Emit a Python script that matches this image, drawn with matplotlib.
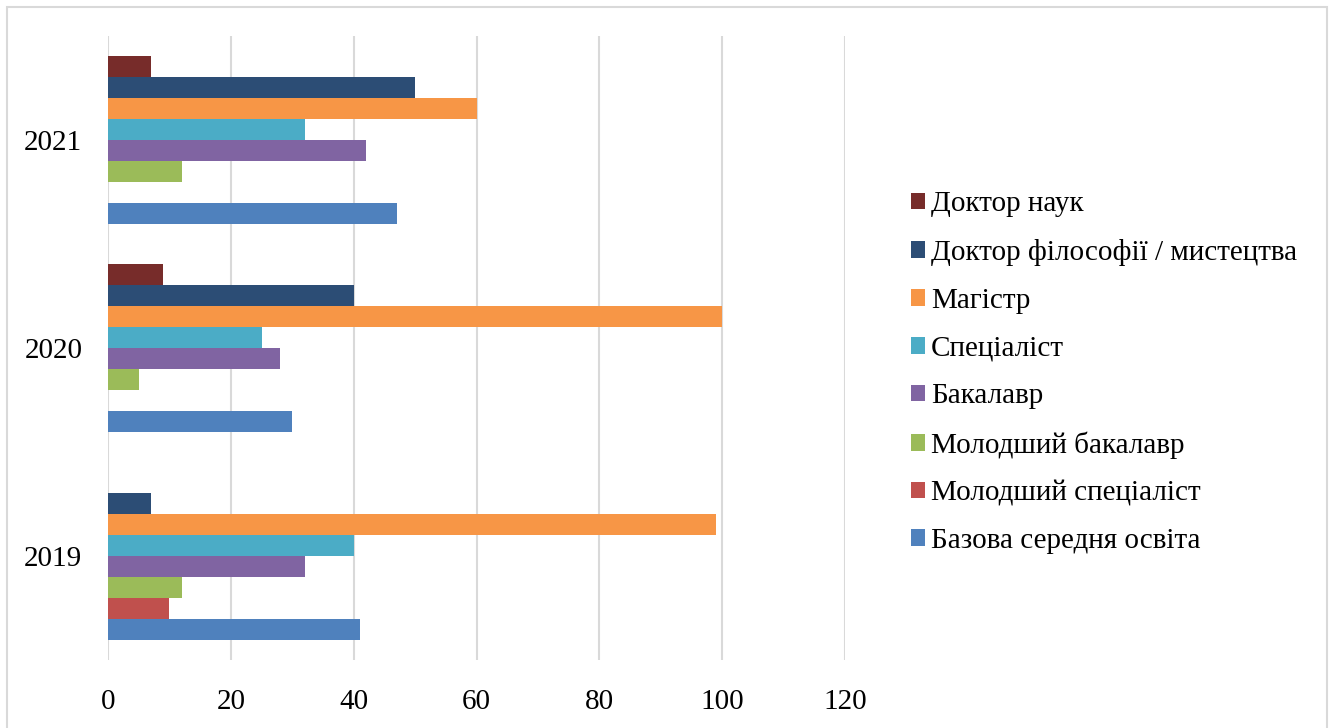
import numpy as np
import matplotlib.pyplot as plt
from matplotlib.patches import Rectangle

plt.rcParams['font.family'] = ['Liberation Serif', 'DejaVu Serif']

years = ['2019', '2020', '2021']

# bottom-to-top order of bars inside each year
levels = [
    'Базова середня освіта',
    'Молодший спеціаліст',
    'Молодший бакалавр',
    'Бакалавр',
    'Спеціаліст',
    'Магістр',
    'Доктор філософії / мистецтва',
    'Доктор наук',
]

bazova = [41, 30, 47]
mol_spec = [10, 0, 0]
mol_bak = [12, 5, 12]
bakalavr = [32, 28, 42]
specialist = [40, 25, 32]
magistr = [99, 100, 60]
dr_phil = [7, 40, 50]
dr_nauk = [0, 9, 7]

series = [bazova, mol_spec, mol_bak, bakalavr, specialist, magistr, dr_phil, dr_nauk]
colors = ['#4F81BD', '#C0504D', '#9BBB59', '#8064A2',
          '#4BACC6', '#F79646', '#2C4D75', '#772C2A']

fig = plt.figure(figsize=(13.33, 7.28), dpi=100)
ax = fig.add_axes([0.081, 0.0934, 0.553, 0.857])

y = np.arange(len(years))
h = 0.101
n = len(series)
for i, (vals, c, lab) in enumerate(zip(series, colors, levels)):
    ax.barh(y + (i - (n - 1) / 2) * h, vals, height=h, color=c,
            linewidth=0, label=lab, zorder=3)

ax.set_xlim(0, 120)
ax.set_ylim(-0.5, 2.5)
ax.set_xticks(np.arange(0, 121, 20))
ax.set_yticks(y)
ax.set_yticklabels(years)
ax.grid(axis='x', color='#d9d9d9', linewidth=1.5, zorder=0)
for s in ax.spines.values():
    s.set_visible(False)
ax.tick_params(axis='both', length=0, labelsize=21, colors='black')
ax.tick_params(axis='x', pad=21)
ax.tick_params(axis='y', pad=18.5)

handles, labels = ax.get_legend_handles_labels()
ax.legend(handles[::-1], labels[::-1], loc='center left',
          bbox_to_anchor=(0.6635, 0.488), bbox_transform=fig.transFigure,
          frameon=False, fontsize=21, handlelength=0.5, handleheight=0.5,
          handletextpad=0.2, labelspacing=0.745)

fig.patches.append(Rectangle((7 / 1333, -0.01), 1320 / 1333, 1 - 7 / 728 + 0.01,
                             transform=fig.transFigure, fill=False,
                             edgecolor='#d9d9d9', linewidth=1.5))

fig.savefig('out.png', dpi=100)
